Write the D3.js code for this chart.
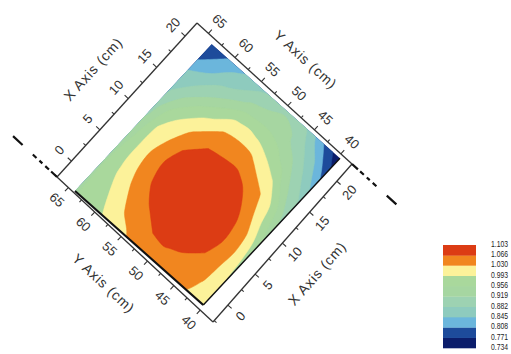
<!DOCTYPE html>
<html>
<head>
<meta charset="utf-8">
<script src="https://cdn.jsdelivr.net/npm/d3@7"></script>
<style>
  body { margin: 0; background: #fff; }
  svg { display: block; font-family: "Liberation Sans", Arial, sans-serif; }
</style>
</head>
<body>
<div id="chart"></div>
<script>
// grid positions (cm)
const xCoords = [0, 2, 4, 6, 8, 10, 12, 14, 16, 18, 20];
const yCoords = [40, 42.5, 45, 47.5, 50, 52.5, 55, 57.5, 60, 62.5, 65];
// one row per Y value (40 first), columns follow xCoords
const values = [
  [1.012, 1.000, 0.990, 0.982, 0.968, 0.935, 0.900, 0.878, 0.835, 0.785, 0.745],
  [1.022, 1.032, 1.037, 1.045, 1.035, 1.008, 0.985, 0.925, 0.890, 0.850, 0.792],
  [1.045, 1.055, 1.066, 1.075, 1.072, 1.058, 1.032, 0.990, 0.935, 0.895, 0.851],
  [1.050, 1.062, 1.078, 1.088, 1.088, 1.080, 1.060, 1.015, 0.970, 0.925, 0.905],
  [1.052, 1.068, 1.085, 1.095, 1.096, 1.088, 1.072, 1.042, 0.988, 0.940, 0.912],
  [1.050, 1.066, 1.084, 1.095, 1.096, 1.088, 1.070, 1.043, 0.998, 0.935, 0.895],
  [1.030, 1.050, 1.072, 1.086, 1.090, 1.084, 1.066, 1.036, 0.990, 0.925, 0.875],
  [1.010, 1.035, 1.055, 1.070, 1.078, 1.068, 1.045, 1.005, 0.955, 0.890, 0.855],
  [0.990, 1.005, 1.025, 1.040, 1.045, 1.030, 1.010, 0.975, 0.915, 0.870, 0.830],
  [0.970, 0.978, 0.990, 0.998, 1.000, 0.998, 0.975, 0.925, 0.880, 0.836, 0.800],
  [0.950, 0.952, 0.952, 0.948, 0.938, 0.922, 0.900, 0.876, 0.858, 0.806, 0.776]
];
const levels = [0.734, 0.771, 0.808, 0.845, 0.882, 0.919, 0.956, 0.993, 1.030, 1.066, 1.103];
const levelColors = ['#0b1d6b', '#1d4b9b', '#6bb6dc', '#8ecbbe', '#9dd2b2', '#a6d6a1', '#a9d89c',
                     '#fcf29a', '#f1861f', '#dc3c14'];
const xTicks = [0, 5, 10, 15, 20];
const xMinor = [-2.5, 2.5, 7.5, 12.5, 17.5];
const yTicks = [40, 45, 50, 55, 60, 65];
const yMinor = [42.5, 47.5, 52.5, 57.5, 62.5];

const W = 511, H = 354;
const svg = d3.select('#chart').append('svg').attr('width', W).attr('height', H);

// corners of the coloured map (X0Y40 bottom, X20Y40 right, X0Y65 left)
const cB = [203.3, 305], cR = [340, 158.3], cL = [75, 191];
const cT = [cR[0] + cL[0] - cB[0], cR[1] + cL[1] - cB[1]];
// corners of the axis frame
const fL = [57, 177], fT = [197, 23], fR = [352, 164], fB = [213, 322];

const uScale = d3.scaleLinear().domain([xCoords[0], xCoords[xCoords.length - 1]]).range([0, 1]);
const vScale = d3.scaleLinear().domain([yCoords[0], yCoords[yCoords.length - 1]]).range([0, 1]);
function toScreen(X, Y) {
  const u = uScale(X), v = vScale(Y);
  return [cB[0] + u * (cR[0] - cB[0]) + v * (cL[0] - cB[0]),
          cB[1] + u * (cR[1] - cB[1]) + v * (cL[1] - cB[1])];
}
// contour grid coords -> cm (grid samples sit at cell centres)
const colToX = d3.scaleLinear().domain([0.5, xCoords.length - 0.5]).range([xCoords[0], xCoords[xCoords.length - 1]]);
const rowToY = d3.scaleLinear().domain([0.5, yCoords.length - 0.5]).range([yCoords[0], yCoords[yCoords.length - 1]]);

svg.append('clipPath').attr('id', 'map-clip')
  .append('polygon').attr('points', [cB, cR, cT, cL].map(p => p.join(',')).join(' '));

const bands = d3.contours()
  .size([xCoords.length, yCoords.length])
  .thresholds(levels)(values.flat());

const ringLine = d3.line().curve(d3.curveCatmullRomClosed.alpha(0.5));
function bandPath(mp) {
  return mp.coordinates.map(poly => poly.map(ring =>
    ringLine(ring.slice(0, -1).map(([c, r]) => toScreen(colToX(c), rowToY(r))))
  ).join('')).join('');
}

svg.append('g').attr('clip-path', 'url(#map-clip)')
  .selectAll('path')
  .data(bands.filter((d, i) => i < levelColors.length))
  .join('path')
  .attr('d', bandPath)
  .attr('fill', (d, i) => levelColors[i])
  .attr('stroke', (d, i) => levelColors[i])
  .attr('stroke-width', 0.5);

// dark edges on the near sides of the map
svg.append('line').attr('x1', cL[0]).attr('y1', cL[1]).attr('x2', cB[0]).attr('y2', cB[1])
  .attr('stroke', '#111').attr('stroke-width', 2.2);
svg.append('line').attr('x1', cB[0]).attr('y1', cB[1]).attr('x2', cR[0]).attr('y2', cR[1])
  .attr('stroke', '#111').attr('stroke-width', 1.4);

function drawAxis(p0, p1, scale, major, minor, side, title) {
  const len = Math.hypot(p1[0] - p0[0], p1[1] - p0[1]);
  const ang = Math.atan2(p1[1] - p0[1], p1[0] - p0[0]) * 180 / Math.PI;
  const g = svg.append('g')
    .attr('transform', `translate(${p0[0]},${p0[1]}) rotate(${ang})`)
    .style('color', '#333');
  const mk = side < 0 ? d3.axisTop : d3.axisBottom;
  g.append('g')
    .call(mk(scale).tickValues(minor).tickSize(3).tickFormat(''))
    .call(s => s.select('.domain').remove());
  g.append('g')
    .call(mk(scale).tickValues(major).tickSize(5).tickPadding(7).tickFormat(d3.format('d')))
    .call(s => s.select('.domain').remove())
    .call(s => s.selectAll('text')
      .attr('font-size', 13)
      .attr('font-family', '"Liberation Sans", Arial, sans-serif')
      .attr('fill', '#333'));
  g.selectAll('.tick line').attr('stroke-width', 1.1);
  g.append('line').attr('x1', 0).attr('x2', len)
    .attr('stroke', '#333').attr('stroke-width', 1.3);
  g.append('text')
    .attr('x', len / 2).attr('y', side * 46)
    .attr('text-anchor', 'middle').attr('dominant-baseline', 'central')
    .attr('font-size', 14).attr('letter-spacing', 0.8).attr('fill', '#333')
    .text(title);
}

drawAxis(fL, fT, d3.scaleLinear().domain([0, 20]).range([21, 190]), xTicks, xMinor, -1, 'X Axis (cm)');
drawAxis(fB, fR, d3.scaleLinear().domain([0, 20]).range([22, 187]), xTicks, xMinor, 1, 'X Axis (cm)');
drawAxis(fL, fB, d3.scaleLinear().domain([65, 40]).range([15, 195]), yTicks, yMinor, 1, 'Y Axis (cm)');
drawAxis(fT, fR, d3.scaleLinear().domain([65, 40]).range([15, 194]), yTicks, yMinor, -1, 'Y Axis (cm)');

// dash-dot leaders at the left and right frame corners
function leader(p, from) {
  const dx = p[0] - from[0], dy = p[1] - from[1], n = Math.hypot(dx, dy);
  svg.append('line')
    .attr('x1', p[0]).attr('y1', p[1])
    .attr('x2', p[0] + dx / n * 66).attr('y2', p[1] + dy / n * 66)
    .attr('stroke', '#111').attr('stroke-width', 2.2)
    .attr('stroke-dasharray', '8,3,5,4,4,4,5,14,13');
}
leader(fL, fB);
leader(fR, fT);

// legend
const legY = d3.scaleLinear().domain([levels[levels.length - 1], levels[0]]).range([245, 348]);
const leg = svg.append('g');
leg.selectAll('rect')
  .data(levelColors)
  .join('rect')
  .attr('x', 443).attr('width', 33)
  .attr('y', (d, i) => legY(levels[i + 1]))
  .attr('height', (d, i) => legY(levels[i]) - legY(levels[i + 1]) + 0.3)
  .attr('fill', d => d);
leg.selectAll('text')
  .data(levels)
  .join('text')
  .attr('x', 491)
  .attr('y', d => legY(d) - 1)
  .attr('dominant-baseline', 'central')
  .attr('font-size', 8.5)
  .attr('textLength', 17)
  .attr('lengthAdjust', 'spacingAndGlyphs')
  .attr('fill', '#222')
  .text(d => d3.format('.3f')(d));
</script>
</body>
</html>
